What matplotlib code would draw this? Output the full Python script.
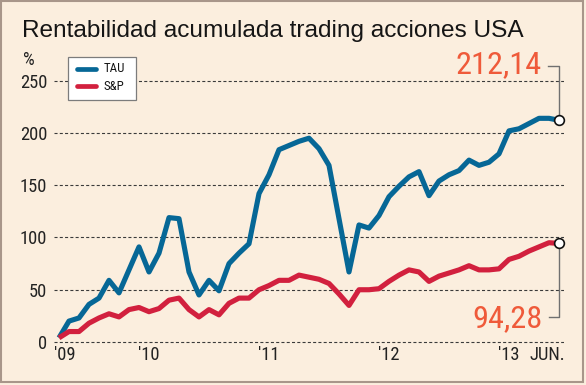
import numpy as np
import matplotlib
matplotlib.use("Agg")
import matplotlib.pyplot as plt
from matplotlib.transforms import Affine2D
from matplotlib.patches import Rectangle
from matplotlib.lines import Line2D
from matplotlib import font_manager as fm

# ---------------- data (monthly, Apr 2009 - Jun 2013) ----------------
tau = [4, 20, 23, 36, 42, 59, 47, 69, 91, 67,
       85, 119, 118, 67, 45, 59, 49, 75, 85, 94,
       142, 160, 184, 188, 192, 195, 185, 169, 118, 67,
       112, 109, 121, 139, 149, 158, 163, 140, 154, 160,
       164, 174, 169, 172, 180, 202, 204, 209, 214, 214,
       212.14]
sp = [4, 10, 10, 18, 23, 27, 24, 31, 33, 29,
      32, 40, 42, 31, 24, 31, 26, 37, 42, 42,
      50, 54, 59, 59, 64, 62, 60, 56, 46, 35,
      50, 50, 51, 58, 64, 69, 67, 58, 63, 66,
      69, 73, 69, 69, 70, 79, 82, 87, 91, 95,
      94.28]
series_names = ["TAU", "S&P"]
last_labels = ["212,14", "94,28"]
x_tick_labels = ["'09", "'10", "'11", "'12", "'13", "JUN."]
x_tick_pos = [0.55, 9, 21, 33, 45, 48.8]
y_ticks = [0, 50, 100, 150, 200, 250]
title = "Rentabilidad acumulada trading acciones USA"

# ---------------- style ----------------
BG = "#FBEEDE"
C_TAU = "#066796"
C_SP = "#D2203E"
C_NUM = "#EF5A3A"
plt.rcParams["lines.scale_dashes"] = False

installed = {f.name for f in fm.fontManager.ttflist}
NARROW = None
for cand in ["Liberation Sans Narrow", "DejaVu Sans Condensed", "Roboto Condensed",
             "Open Sans Condensed", "Noto Sans Condensed"]:
    if cand in installed:
        NARROW = [cand, "DejaVu Sans"]
        break
condensed_ok = NARROW is not None
if not condensed_ok:
    NARROW = ["Liberation Sans", "DejaVu Sans"]
# scale for sizes when no narrow font is available (match height, accept width)
fs_scale = 1.0 if condensed_ok else 0.9

W, H = 586, 385
fig = plt.figure(figsize=(W / 100, H / 100), dpi=100)
fig.patch.set_facecolor(BG)
px = Affine2D().scale(1 / W, -1 / H).translate(0, 1) + fig.transFigure

# axes placement (pixels)
ylo, yhi = -7, 260
yscale = 1.0452
y0 = 342.0
bot = y0 - ylo * yscale
top = y0 - yhi * yscale
ax = fig.add_axes([54 / W, (H - bot) / H, 510 / W, (bot - top) / H])
ax.set_facecolor("none")
for s in ax.spines.values():
    s.set_visible(False)

x = np.arange(len(tau))
ax.set_xlim(-0.5, len(tau) - 0.5)
ax.set_ylim(ylo, yhi)

for v in y_ticks:
    ax.axhline(v, color="#3a3a3a", lw=0.8, dashes=(2.2, 1.6), zorder=1)

ax.plot(x, tau, color=C_TAU, lw=3.7, solid_joinstyle="round",
        solid_capstyle="butt", zorder=3, clip_on=False)
ax.plot(x, sp, color=C_SP, lw=3.7, solid_joinstyle="round",
        solid_capstyle="butt", zorder=4, clip_on=False)

# leader lines + end markers
xe = x[-1]
ax.plot([xe, xe, xe - 1.1], [tau[-1], 264, 264], color="#707070", lw=1.0,
        zorder=2, clip_on=False)
ax.plot([xe, xe, xe - 1.0], [sp[-1], 23.9, 23.9], color="#707070", lw=1.0,
        zorder=2, clip_on=False)
for vals in (tau, sp):
    ax.plot(xe, vals[-1], "o", ms=7, mfc="white", mec="#111111", mew=1.2,
            zorder=6, clip_on=False)

ann_fs = 23.3 if condensed_ok else 21.5
ax.annotate(last_labels[0], xy=(xe, tau[-1]), xytext=(-17, 47.5),
            textcoords="offset pixels", ha="right", va="baseline",
            color=C_NUM, fontsize=ann_fs, family=NARROW, annotation_clip=False)
ax.annotate(last_labels[1], xy=(xe, sp[-1]), xytext=(-16, -83.5),
            textcoords="offset pixels", ha="right", va="baseline",
            color=C_NUM, fontsize=ann_fs, family=NARROW, annotation_clip=False)

# ticks
tick_fs = 13.3 if condensed_ok else 12
ax.set_yticks(y_ticks)
ax.set_yticklabels([str(v) for v in y_ticks], family=NARROW, fontsize=tick_fs,
                   color="#222222")
ax.set_xticks(x_tick_pos)
ax.set_xticklabels(x_tick_labels, family=NARROW, fontsize=tick_fs, color="#222222")
ax.tick_params(axis="y", length=0, pad=5)
ax.tick_params(axis="x", length=0, pad=-2.5)

# title (fit to width)
t = fig.text(22, 37, title, transform=px, fontsize=17.5, va="baseline",
             ha="left", color="#151515", family=["Liberation Sans", "DejaVu Sans"])
fig.canvas.draw()
wpx = t.get_window_extent().width
t.set_fontsize(17.5 * 500 / wpx)

fig.text(23, 65, "%", transform=px, fontsize=tick_fs, va="baseline", ha="left",
         color="#222222", family=NARROW)

# legend box
fig.add_artist(Rectangle((68, 57), 68, 43, transform=px, facecolor="white",
                         edgecolor="#7c7c7c", lw=0.9, zorder=7))
for yy, col, name in ((69, C_TAU, series_names[0]), (86, C_SP, series_names[1])):
    fig.add_artist(Line2D([77, 96], [yy, yy], transform=px, color=col, lw=3.4,
                          solid_capstyle="round", zorder=8))
    fig.text(104, yy, name, transform=px, fontsize=9.3 if condensed_ok else 8.6,
             va="center", ha="left", color="#151515", family=NARROW, zorder=9)

# outer frame
fig.add_artist(Rectangle((1, 1), 582, 381, transform=px, fill=False,
                         edgecolor="#A8968A", lw=1.5, zorder=10))

fig.savefig("out.png", dpi=100, facecolor=BG)
